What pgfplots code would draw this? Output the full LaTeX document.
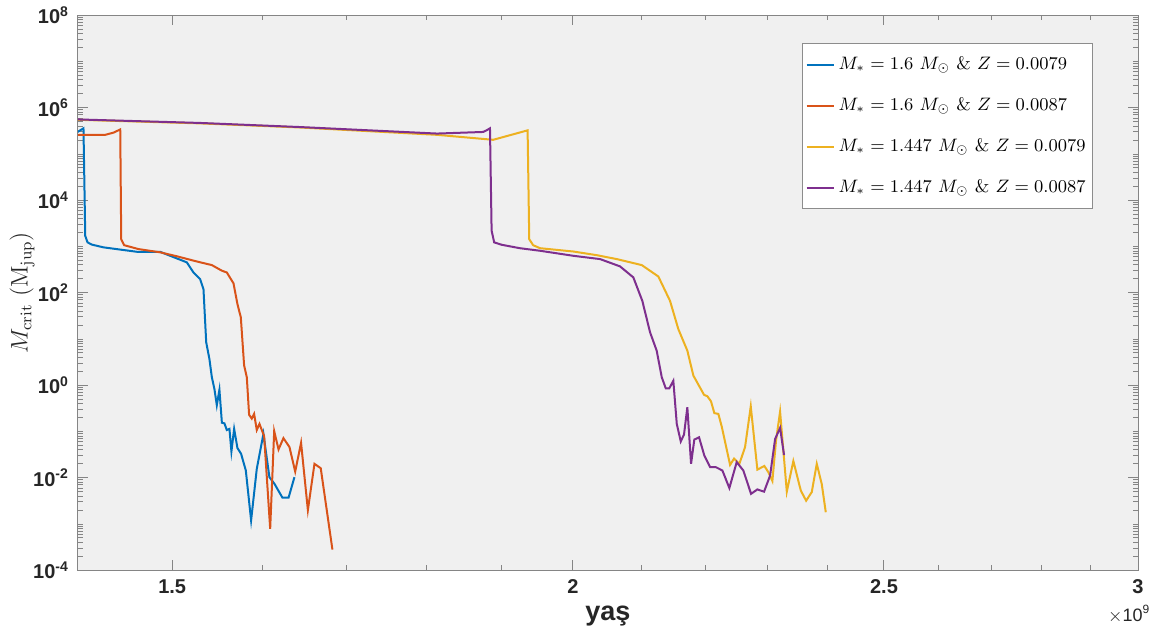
\documentclass[border=0pt]{standalone}
\usepackage[no-math]{fontspec}
\newfontfamily\lsans{Liberation Sans}
\usepackage{pgfplots}
\pgfplotsset{compat=1.18}
\definecolor{c1}{rgb}{0,0.447,0.741}
\definecolor{c2}{rgb}{0.850,0.325,0.098}
\definecolor{c3}{rgb}{0.929,0.694,0.125}
\definecolor{c4}{rgb}{0.494,0.184,0.556}
\definecolor{bgc}{rgb}{0.941,0.941,0.941}
\definecolor{axgray}{rgb}{0.52,0.52,0.52}
\definecolor{tickc}{rgb}{0.15,0.15,0.15}
\definecolor{legc}{rgb}{0.55,0.55,0.55}
\newcommand{\tp}[1]{\textbf{10\textsuperscript{#1}}}
\begin{document}
\begin{tikzpicture}
\begin{axis}[
  scale only axis, width=530pt, height=277.5pt,
  xmode=log, ymode=log,
  xmin=1.402, xmax=3, ymin=1e-4, ymax=1e8,
  axis background/.style={fill=bgc},
  axis line style={axgray, line width=0.5pt},
  every tick/.style={axgray, line width=0.5pt},
  tick align=inside,
  major tick length=5pt, minor tick length=2.5pt,
  xtick={1.5,2,2.5,3}, xticklabels={1.5,2,2.5,3},
  minor xtick={1.6,1.7,1.8,1.9,2.1,2.2,2.3,2.4,2.6,2.7,2.8,2.9},
  ytick={1e-4,1e-2,1,1e2,1e4,1e6,1e8},
  yticklabels={\tp{-4},\tp{-2},\tp{0},\tp{2},\tp{4},\tp{6},\tp{8}},
  minor ytick={2e-4,3e-4,4e-4,5e-4,6e-4,7e-4,8e-4,9e-4,1e-3,2e-3,3e-3,4e-3,5e-3,6e-3,7e-3,8e-3,9e-3,
    2e-2,3e-2,4e-2,5e-2,6e-2,7e-2,8e-2,9e-2,1e-1,2e-1,3e-1,4e-1,5e-1,6e-1,7e-1,8e-1,9e-1,
    2,3,4,5,6,7,8,9,10,20,30,40,50,60,70,80,90,
    200,300,400,500,600,700,800,900,1e3,2e3,3e3,4e3,5e3,6e3,7e3,8e3,9e3,
    2e4,3e4,4e4,5e4,6e4,7e4,8e4,9e4,1e5,2e5,3e5,4e5,5e5,6e5,7e5,8e5,9e5,
    2e6,3e6,4e6,5e6,6e6,7e6,8e6,9e6,1e7,2e7,3e7,4e7,5e7,6e7,7e7,8e7,9e7},
  tick label style={font=\lsans\fontsize{10}{12}\selectfont\bfseries, text=tickc},
  xticklabel style={yshift=-1pt},
  yticklabel style={xshift=-1pt},
  xlabel={yaş},
  xlabel style={font=\lsans\fontsize{13.5}{15}\selectfont\bfseries, text=tickc, at={(rel axis cs:0.5,-0.082)}, anchor=center},
  ylabel={$M_{\mathrm{crit}}~(\mathrm{M}_{\mathrm{jup}})$},
  ylabel style={font=\fontsize{11.5}{13}\selectfont, text=tickc, at={(rel axis cs:-0.0528,0.5)}, anchor=center},
  legend style={at={(rel axis cs:0.9575,0.9495)}, anchor=north east, draw=legc, fill=white,
    font=\fontsize{9.1}{11}\selectfont, row sep=8.5pt, inner xsep=1.5pt, inner ysep=4.5pt,
    /tikz/every even column/.append style={column sep=0pt}},
  legend cell align=left,
  legend image code/.code={\draw[#1,line width=1pt] (0pt,0pt) -- (13.5pt,0pt);},
  every axis plot/.append style={line width=1pt},
]
\addplot[c1] coordinates {
(1.4015,3.0e5)(1.4075,3.6e5)(1.4093,1.7e3)(1.4116,1.23e3)(1.4160,1.1e3)(1.4278,960)
(1.4625,770)(1.4871,770)(1.4979,630)(1.5159,455)(1.5231,275)(1.5304,198)(1.5341,120)
(1.5371,8.5)(1.5407,3.7)(1.5433,1.49)(1.5462,0.83)(1.5489,0.37)(1.5518,0.80)(1.5545,0.155)
(1.5574,0.15)(1.5600,0.108)(1.5630,0.114)(1.5652,0.037)(1.5682,0.114)(1.5720,0.044)
(1.5761,0.033)(1.5815,0.0144)(1.5875,0.0012)(1.5940,0.0156)(1.6016,0.089)(1.6085,0.0103)
(1.6143,0.0074)(1.6236,0.0037)(1.6306,0.0037)(1.6376,0.0103)};
\addlegendentry{$M_* = 1.6~M_\odot$ \& $Z = 0.0079$}
\addplot[c2] coordinates {
(1.4015,2.6e5)(1.4296,2.6e5)(1.4382,2.9e5)(1.4451,3.4e5)(1.4461,1.44e3)(1.4492,1.07e3)
(1.4642,880)(1.4871,750)(1.5051,615)(1.5268,475)(1.5433,397)(1.5545,300)(1.5600,275)
(1.5675,160)(1.5720,57)(1.5758,29.5)(1.5795,2.7)(1.5826,1.49)(1.5852,0.23)(1.5883,0.19)
(1.5909,0.24)(1.5940,0.108)(1.5970,0.146)(1.6024,0.079)(1.6093,0.00079)(1.6140,0.102)
(1.6190,0.041)(1.6248,0.072)(1.6318,0.046)(1.6385,0.0136)(1.6455,0.057)(1.6535,0.0020)
(1.6613,0.020)(1.6689,0.0161)(1.6829,0.00028)};
\addlegendentry{$M_* = 1.6~M_\odot$ \& $Z = 0.0087$}
\addplot[c3] coordinates {
(1.4015,5.5e5)(1.5304,4.6e5)(1.6443,3.75e5)(1.8141,2.6e5)(1.8889,2.03e5)(1.9361,3.25e5)
(1.9383,1.44e3)(1.9439,1.07e3)(1.9533,920)(2.0005,780)(2.0344,650)(2.0637,535)(2.1011,397)
(2.1263,225)(2.1442,67)(2.1570,16.4)(2.1710,5.6)(2.1804,1.62)(2.1972,0.62)(2.2024,0.58)
(2.2082,0.45)(2.2135,0.25)(2.2199,0.24)(2.2253,0.128)(2.2386,0.019)(2.2450,0.026)
(2.2536,0.020)(2.2628,0.046)(2.2721,0.35)(2.2829,0.015)(2.2944,0.018)(2.3010,0.0132)
(2.3076,0.0085)(2.3137,0.064)(2.3204,0.27)(2.3316,0.0050)(2.3426,0.023)(2.3551,0.0053)
(2.3641,0.0032)(2.3738,0.0049)(2.3823,0.020)(2.3908,0.0074)(2.3977,0.0018)};
\addlegendentry{$M_* = 1.447~M_\odot$ \& $Z = 0.0079$}
\addplot[c4] coordinates {
(1.4015,5.6e5)(1.5304,4.7e5)(1.6443,3.83e5)(1.8141,2.77e5)(1.8754,3.0e5)(1.8799,3.25e5)
(1.8844,3.6e5)(1.8867,2.2e3)(1.8902,1.23e3)(1.9003,1.09e3)(1.9254,920)(1.9533,810)
(2.0005,630)(2.0392,535)(2.0686,372)(2.0885,215)(2.1020,67)(2.1137,14)(2.1238,5.6)
(2.1315,1.49)(2.1376,0.86)(2.1431,0.86)(2.1493,1.25)(2.1546,0.146)(2.1608,0.061)
(2.1658,0.086)(2.1710,0.335)(2.1768,0.020)(2.1819,0.067)(2.1893,0.075)(2.1977,0.030)
(2.2067,0.017)(2.2157,0.017)(2.2263,0.0144)(2.2375,0.0060)(2.2493,0.0218)(2.2600,0.0144)
(2.2726,0.0045)(2.2829,0.0056)(2.2939,0.0050)(2.3038,0.0112)(2.3121,0.069)(2.3204,0.12)
(2.3270,0.031)};
\addlegendentry{$M_* = 1.447~M_\odot$ \& $Z = 0.0087$}
\coordinate (bbA) at (rel axis cs:-0.07358,-0.12072);
\coordinate (bbB) at (rel axis cs:1.03019,1.02162);
\coordinate (xm) at (rel axis cs:1.012,-0.079);
\end{axis}
\node[anchor=east, inner sep=0pt, text=tickc, font=\lsans\fontsize{9}{10}\selectfont] at (xm) {$\times$10\textsuperscript{9}};
\path (bbA) rectangle (bbB);
\end{tikzpicture}
\end{document}
